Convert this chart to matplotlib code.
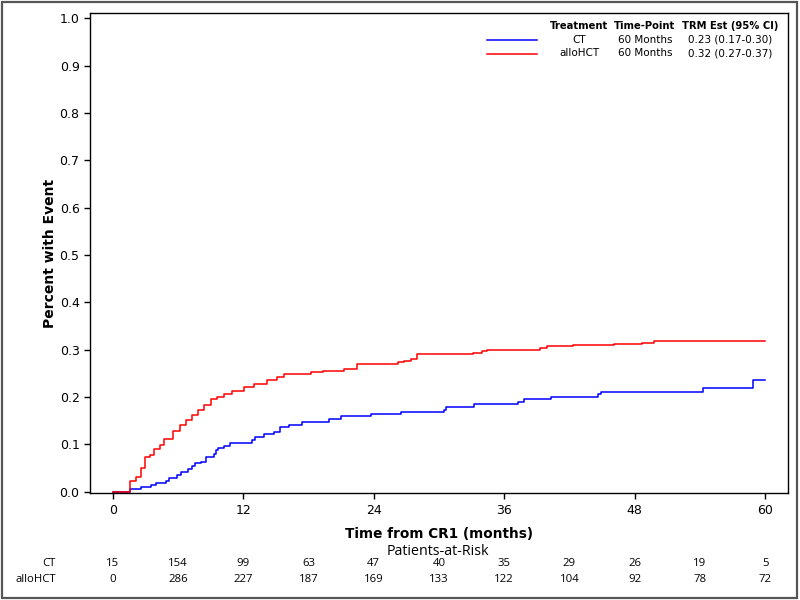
import matplotlib.pyplot as plt
from matplotlib.lines import Line2D
from matplotlib.patches import Rectangle

# cumulative incidence of TRM (months, estimate)
ct_months = [0, 1.6, 2.6, 3.5, 3.95, 4.9, 5.2, 5.9, 6.25, 6.9, 7.3, 7.6, 8.1, 8.6, 9.3, 9.5,
             9.7, 10.2, 10.8, 12.8, 13.1, 13.9, 14.8, 15.4, 16.2, 17.4, 19.9, 21.0, 23.7,
             26.5, 30.5, 30.6, 33.2, 37.3, 37.8, 40.3, 44.6, 44.9, 54.3, 58.9, 60]
ct_est = [0, 0.005, 0.009, 0.013, 0.018, 0.023, 0.028, 0.036, 0.042, 0.048, 0.055, 0.060,
          0.063, 0.073, 0.080, 0.087, 0.091, 0.096, 0.102, 0.109, 0.116, 0.121, 0.125, 0.136,
          0.141, 0.148, 0.154, 0.159, 0.163, 0.168, 0.173, 0.179, 0.184, 0.190, 0.195, 0.199,
          0.206, 0.211, 0.218, 0.235, 0.235]

allo_months = [0, 1.6, 2.1, 2.6, 3.0, 3.4, 3.8, 4.3, 4.7, 5.5, 6.2, 6.7, 7.3, 7.8, 8.4, 9.0,
               9.6, 10.2, 11.0, 12.1, 13.0, 14.2, 15.1, 15.7, 18.2, 19.3, 21.3, 22.5, 26.2,
               26.8, 27.4, 28.0, 33.1, 34.0, 34.4, 39.3, 39.9, 42.3, 46.1, 47.2, 48.7, 49.8, 60]
allo_est = [0, 0.023, 0.030, 0.049, 0.073, 0.078, 0.089, 0.098, 0.112, 0.128, 0.140, 0.151,
            0.162, 0.172, 0.183, 0.195, 0.200, 0.207, 0.213, 0.221, 0.227, 0.236, 0.243,
            0.248, 0.252, 0.255, 0.260, 0.269, 0.274, 0.276, 0.281, 0.290, 0.293, 0.297,
            0.300, 0.303, 0.307, 0.309, 0.311, 0.312, 0.315, 0.319, 0.319]

risk_times = [0, 6, 12, 18, 24, 30, 36, 42, 48, 54, 60]
risk_ct = [15, 154, 99, 63, 47, 40, 35, 29, 26, 19, 5]
risk_allo = [0, 286, 227, 187, 169, 133, 122, 104, 92, 78, 72]

legend_header = ["Treatment", "Time-Point", "TRM Est (95% CI)"]
legend_rows = [["CT", "60 Months", "0.23 (0.17-0.30)"],
               ["alloHCT", "60 Months", "0.32 (0.27-0.37)"]]
colors = ["blue", "red"]

table_font = ["Open Sans", "DejaVu Sans"]

fig = plt.figure(figsize=(8, 6), dpi=100)
ax = fig.add_axes([0.1125, 0.178, 0.8725, 0.8])

ax.step(ct_months, ct_est, where="post", color="blue", lw=1.1)
ax.step(allo_months, allo_est, where="post", color="red", lw=1.1)

ax.set_xlim(-2.1, 62.1)
ax.set_ylim(-0.0035, 1.011)
ax.set_xticks(range(0, 61, 12))
ax.set_yticks([i / 10 for i in range(11)])
ax.set_yticklabels(["%.1f" % (i / 10) for i in range(11)])
ax.tick_params(direction="out", length=4, width=1, labelsize=9, pad=3.5)
ax.set_ylabel("Percent with Event", fontsize=10, fontweight="bold", labelpad=2)
ax.set_xlabel("Time from CR1 (months)", fontsize=9.8, fontweight="bold", labelpad=7.5)
for s in ax.spines.values():
    s.set_linewidth(1.0)

# legend table (figure coordinates)
W, H = 800.0, 600.0
col_x = [579, 645, 730]
row_y = [26, 40, 53.5]
for cx, txt in zip(col_x, legend_header):
    fig.text(cx / W, 1 - row_y[0] / H, txt, ha="center", va="center", fontsize=7.2,
             fontweight="bold")
for r, row in enumerate(legend_rows):
    yy = 1 - row_y[r + 1] / H
    fig.add_artist(Line2D([487 / W, 537 / W], [yy, yy], color=colors[r], lw=1.1))
    for cx, txt in zip(col_x, row):
        fig.text(cx / W, yy, txt, ha="center", va="center", fontsize=7.5)

# patients-at-risk table under the x axis
fig.text(438 / W, 1 - 551.5 / H, "Patients-at-Risk", ha="center", va="center",
         fontsize=10.3, family=table_font)
for label, vals, yp in [("CT", risk_ct, 563.5), ("alloHCT", risk_allo, 579)]:
    fig.text(56 / W, 1 - yp / H, label, ha="right", va="center", fontsize=8.2,
             family=table_font)
    for t, v in zip(risk_times, vals):
        xp = ax.transData.transform((t, 0))[0]
        fig.text(xp / W, 1 - yp / H, str(v), ha="center", va="center", fontsize=8.2,
                 family=table_font)

# outer frame
fig.add_artist(Rectangle((0.002, 0.003), 0.994, 0.993, transform=fig.transFigure,
                         fill=False, edgecolor="#555555", lw=1.6))

plt.savefig("out.png", dpi=100)
